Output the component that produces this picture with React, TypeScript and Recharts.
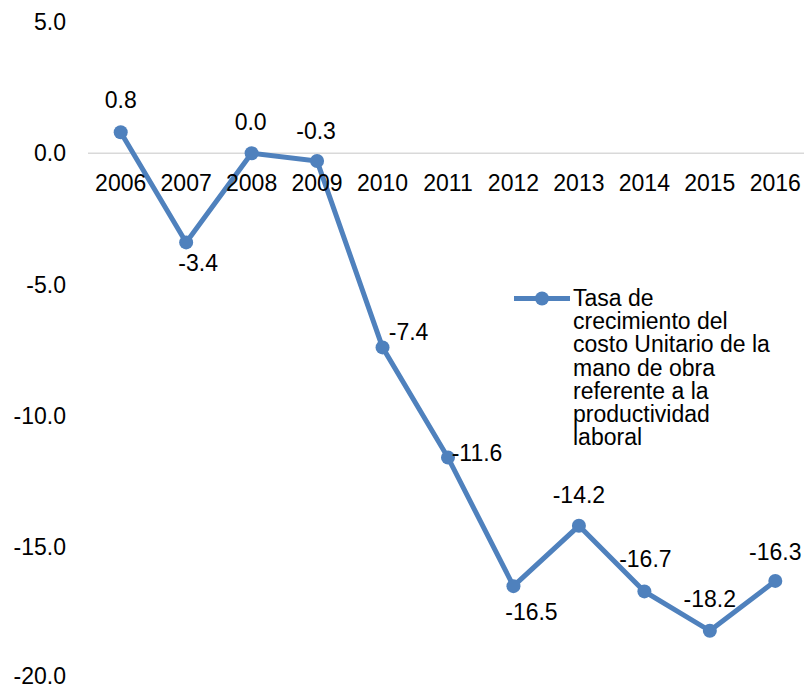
// Tasa de crecimiento del costo unitario de la mano de obra (2006-2016)
import { Legend, LabelList, Line, LineChart, ReferenceLine, XAxis, YAxis } from 'recharts'

const years = ['2006', '2007', '2008', '2009', '2010', '2011', '2012', '2013', '2014', '2015', '2016']
const tasa = [0.8, -3.4, 0.0, -0.3, -7.4, -11.6, -16.5, -14.2, -16.7, -18.2, -16.3]
const yTicks = [5, 0, -5, -10, -15, -20]
const seriesName =
  'Tasa de crecimiento del costo Unitario de la mano de obra referente a la productividad laboral'
const legendLines = [
  'Tasa de',
  'crecimiento del',
  'costo Unitario de la',
  'mano de obra',
  'referente a la',
  'productividad',
  'laboral',
]

const data = years.map((y, i) => ({ year: y, tasa: tasa[i] }))

// 图形布局
const W = 808
const H = 689
const TOP = 22
const BOTTOM = 10
const X_H = 1
const PLOT_H = H - TOP - BOTTOM - X_H
const Y_MIN = -20
const Y_MAX = 5
const ZERO_Y = TOP + (PLOT_H * (Y_MAX - 0)) / (Y_MAX - Y_MIN)

const BLUE = '#4f81bd'
const FONT = '"Liberation Sans", Arial, sans-serif'
const FS = 23

// 数据标签相对点的偏移 (dx, dy)
const labelOffsets: [number, number][] = [
  [0, -32],
  [12, 21],
  [-1, -31],
  [-1, -30],
  [26, -15],
  [29, -5],
  [18, 26],
  [0, -31],
  [1, -32],
  [0, -32],
  [0, -29],
]

const renderLabel = (props: any) => {
  const { x, y, index, value } = props
  const [dx, dy] = labelOffsets[index] ?? [0, -30]
  return (
    <text
      x={x + dx}
      y={y + dy}
      textAnchor="middle"
      dominantBaseline="central"
      fontSize={FS}
      fontFamily={FONT}
      fill="#000"
    >
      {Number(value).toFixed(1)}
    </text>
  )
}

const renderYearTick = (props: any) => {
  const { x, payload } = props
  return (
    <text
      x={x}
      y={ZERO_Y + 30}
      textAnchor="middle"
      dominantBaseline="central"
      fontSize={FS}
      fontFamily={FONT}
      fill="#000"
    >
      {payload.value}
    </text>
  )
}

const LegendBox = () => (
  <div style={{ display: 'flex', fontFamily: FONT, fontSize: FS, color: '#000' }}>
    <svg width={60} height={24} style={{ flex: 'none' }}>
      <line x1={1} y1={11.5} x2={57} y2={11.5} stroke={BLUE} strokeWidth={5} />
      <circle cx={29} cy={11.5} r={7} fill={BLUE} />
    </svg>
    <div style={{ lineHeight: '23.2px', whiteSpace: 'nowrap' }} title={seriesName}>
      {legendLines.map((l) => (
        <div key={l}>{l}</div>
      ))}
    </div>
  </div>
)

export default function App() {
  return (
    <div style={{ position: 'absolute', left: 0, top: 0, width: 804, height: 689, overflow: 'hidden', background: '#fff' }}>
      <LineChart width={W} height={H} data={data} margin={{ top: TOP, right: 0, bottom: BOTTOM, left: 0 }}>
        <XAxis
          dataKey="year"
          height={X_H}
          axisLine={false}
          tickLine={false}
          padding={{ left: 32.7, right: 32.7 }}
          tick={renderYearTick}
          interval={0}
        />
        <YAxis
          width={88}
          domain={[Y_MIN, Y_MAX]}
          ticks={yTicks}
          axisLine={false}
          tickLine={false}
          tickSize={0}
          tickMargin={22}
          tickFormatter={(v: number) => v.toFixed(1)}
          tick={{ fontSize: FS, fontFamily: FONT, fill: '#000' }}
        />
        <ReferenceLine y={0} stroke="#d9d9d9" strokeWidth={1.5} />
        <Legend
          layout="horizontal"
          align="center"
          verticalAlign="middle"
          wrapperStyle={{ left: 513, top: 287, width: 291 }}
          content={<LegendBox />}
        />
        <Line
          type="linear"
          dataKey="tasa"
          name={seriesName}
          stroke={BLUE}
          strokeWidth={5}
          dot={{ r: 7, fill: BLUE, stroke: BLUE, strokeWidth: 0 }}
          activeDot={false}
          isAnimationActive={false}
        >
          <LabelList dataKey="tasa" content={renderLabel} />
        </Line>
      </LineChart>
    </div>
  )
}
